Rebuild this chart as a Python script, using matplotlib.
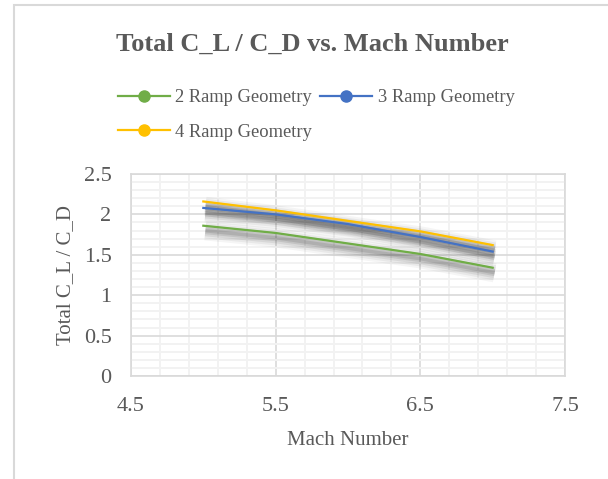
import numpy as np
import matplotlib
matplotlib.use("Agg")
import matplotlib.pyplot as plt
from matplotlib.lines import Line2D
from matplotlib.patches import Rectangle
from matplotlib.ticker import FixedLocator, MultipleLocator, FuncFormatter
from matplotlib.transforms import ScaledTranslation

# data
mach = [5.0, 5.5, 6.0, 6.5, 7.0]
ramp2 = [1.86, 1.77, 1.64, 1.51, 1.34]
ramp3 = [2.08, 2.00, 1.88, 1.72, 1.54]
ramp4 = [2.16, 2.05, 1.92, 1.79, 1.62]
series_names = ["2 Ramp Geometry", "3 Ramp Geometry", "4 Ramp Geometry"]
series_colors = ["#70AD47", "#4472C4", "#FFC000"]

txt = "#595959"
plt.rcParams["font.family"] = ["Liberation Serif", "DejaVu Serif"]

fig = plt.figure(figsize=(6.08, 4.79), dpi=100)
ax = fig.add_axes([131 / 608, 103 / 479, 434 / 608, 202 / 479])

# outer chart border (clipped at right/bottom like the screenshot)
fig.patches.append(Rectangle((14 / 608, -0.2), 1.2, 1.2 - 5.5 / 479,
                             transform=fig.transFigure, fill=False,
                             edgecolor="#D9D9D9", lw=1.5))

# soft shadow under the lines
shift = ScaledTranslation(2 / 100, -5 / 100, fig.dpi_scale_trans)
for ys in [ramp2, ramp3, ramp4]:
    for w, a in [(14, 0.04), (11, 0.05), (8, 0.07), (5, 0.09), (2.5, 0.1)]:
        ax.plot(mach, ys, color="black", lw=w, alpha=a, solid_capstyle="butt",
                transform=ax.transData + shift, zorder=2)

for ys, c in zip([ramp2, ramp3, ramp4], series_colors):
    ax.plot(mach, ys, color=c, lw=1.6, zorder=3)

ax.set_xlim(4.5, 7.5)
ax.set_ylim(0, 2.5)
ax.xaxis.set_major_locator(FixedLocator([4.5, 5.5, 6.5, 7.5]))
ax.xaxis.set_minor_locator(FixedLocator(np.arange(4.5, 7.51, 0.2)))
ax.yaxis.set_major_locator(MultipleLocator(0.5))
ax.yaxis.set_minor_locator(MultipleLocator(0.1))
ax.yaxis.set_major_formatter(FuncFormatter(lambda v, p: f"{v:g}"))
ax.xaxis.set_major_formatter(FuncFormatter(lambda v, p: f"{v:g}"))

ax.grid(which="minor", color="#F2F2F2", lw=1.4, zorder=0)
ax.grid(which="major", color="#D9D9D9", lw=1.2, zorder=1)
ax.set_axisbelow(True)
for s in ax.spines.values():
    s.set_color("#D9D9D9")
    s.set_linewidth(1.2)

ax.tick_params(which="both", length=0, labelsize=16, labelcolor=txt)
ax.tick_params(axis="x", pad=15)
ax.tick_params(axis="y", pad=14)

ax.set_xlabel("Mach Number", fontsize=15, color=txt, labelpad=11)
ax.set_ylabel("Total C_L / C_D", fontsize=15, color=txt, labelpad=6)

fig.text(0.514, 0.907, "Total C_L / C_D vs. Mach Number", fontsize=19,
         fontweight="bold", color=txt, ha="center", va="center")

handles = [Line2D([], [], color=c, lw=1.6, marker="o", markersize=8)
           for c in series_colors]
# reorder so the legend fills row by row like Excel
order = [0, 2, 1]
leg = fig.legend([handles[i] for i in order], [series_names[i] for i in order],
                 ncol=2, loc="upper left", bbox_to_anchor=(118 / 608, 1 - 89 / 479),
                 frameon=False, fontsize=13.3, handlelength=2.8, handletextpad=0.3,
                 columnspacing=0.45, labelspacing=0.95, borderpad=0, borderaxespad=0)
for t in leg.get_texts():
    t.set_color(txt)

fig.savefig("out.png", dpi=100)
